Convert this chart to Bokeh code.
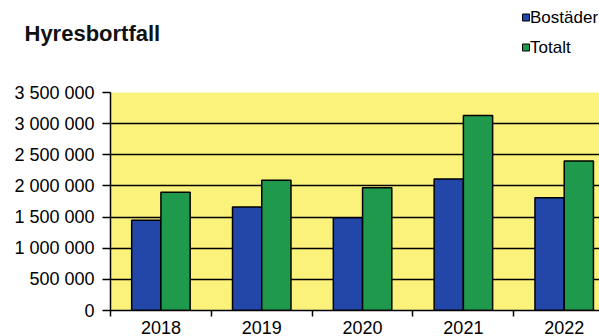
from bokeh.plotting import figure
from bokeh.models import ColumnDataSource, Range1d, FixedTicker
from bokeh.core.properties import value
from bokeh.embed import file_html
from bokeh.resources import INLINE

# ---- data ----
years = ["2018", "2019", "2020", "2021", "2022"]
bostader = [1450000, 1660000, 1490000, 2110000, 1810000]
totalt = [1900000, 2090000, 1970000, 3130000, 2400000]
y_ticks = [0, 500000, 1000000, 1500000, 2000000, 2500000, 3000000, 3500000]
y_tick_labels = ["0", "500 000", "1 000 000", "1 500 000", "2 000 000",
                 "2 500 000", "3 000 000", "3 500 000"]
title_text = "Hyresbortfall"
series_names = ["Bostäder", "Totalt"]

# ---- styling ----
FONT = "Liberation Sans"
BLUE = "#2347a8"
GREEN = "#1f9a4c"
YELLOW = "#fbf27c"
W = 599
HEAD_H = 82

# ---------- header (title + legend) ----------
h = figure(width=W, height=HEAD_H, output_backend="svg", toolbar_location=None,
           x_range=Range1d(0, W), y_range=Range1d(HEAD_H, 0),
           min_border=0)
h.axis.visible = False
h.grid.visible = False
h.outline_line_color = None
h.background_fill_color = "white"
h.border_fill_color = "white"

h.text(x=[24], y=[33], text=[title_text], text_font=value(FONT),
       text_font_size="22px", text_font_style="bold", text_color="#111111",
       text_baseline="middle", text_align="left")

leg_src = ColumnDataSource(dict(
    x=[525.5, 525.5], y=[17, 47], name=series_names, color=[BLUE, GREEN],
    tx=[529.5, 529.5],
))
h.scatter(x="x", y="y", marker="square", size=7, fill_color="color",
          line_color="black", line_width=1, source=leg_src)
h.text(x="tx", y="y", text="name", source=leg_src, text_font=value(FONT),
       text_font_size="17px", text_color="black", text_baseline="middle",
       text_align="left")

# ---------- main chart ----------
centers = [i + 0.5 for i in range(len(years))]
bounds = [float(i) for i in range(len(years) + 1)]
off = 0.145
bw = 0.29

src = ColumnDataSource(dict(
    xb=[c - off for c in centers],
    xt=[c + off for c in centers],
    bostader=bostader,
    totalt=totalt,
))

p = figure(width=W, height=336 - HEAD_H, output_backend="svg", toolbar_location=None,
           x_range=Range1d(0, 4.85), y_range=Range1d(0, 3500000),
           min_border_left=110, min_border_right=0, min_border_top=92 - HEAD_H,
           min_border_bottom=26)
p.background_fill_color = YELLOW
p.border_fill_color = "white"
p.outline_line_color = None

p.vbar(x="xb", top="bostader", width=bw, source=src, fill_color=BLUE,
       line_color="black", line_width=1.5)
p.vbar(x="xt", top="totalt", width=bw, source=src, fill_color=GREEN,
       line_color="black", line_width=1.5)

p.xgrid.visible = False
p.ygrid.ticker = FixedTicker(ticks=y_ticks)
p.ygrid.grid_line_color = "black"
p.ygrid.grid_line_width = 1.5
p.ygrid.level = "underlay"

# y axis
p.yaxis.ticker = FixedTicker(ticks=y_ticks)
p.yaxis.major_label_overrides = {t: l for t, l in zip(y_ticks, y_tick_labels)}
p.yaxis.major_tick_out = 8
p.yaxis.major_tick_in = 0
p.yaxis.minor_tick_line_color = None
p.yaxis.axis_line_color = "black"
p.yaxis.axis_line_width = 1.5
p.yaxis.major_tick_line_width = 1.5
p.yaxis.major_label_standoff = 8
p.yaxis.major_label_text_font = FONT
p.yaxis.major_label_text_font_size = "18px"
p.yaxis.major_label_text_color = "black"

# x axis
p.xaxis.ticker = FixedTicker(ticks=centers, minor_ticks=bounds)
p.xaxis.major_label_overrides = {c: y for c, y in zip(centers, years)}
p.xaxis.major_tick_out = 0
p.xaxis.major_tick_in = 0
p.xaxis.minor_tick_out = 6
p.xaxis.minor_tick_in = 0
p.xaxis.minor_tick_line_color = "black"
p.xaxis.minor_tick_line_width = 1.5
p.xaxis.axis_line_color = "black"
p.xaxis.axis_line_width = 1.5
p.xaxis.major_label_standoff = 4
p.xaxis.major_label_text_font = FONT
p.xaxis.major_label_text_font_size = "18px"
p.xaxis.major_label_text_color = "black"

open("out.html", "w").write(file_html([h, p], INLINE))
